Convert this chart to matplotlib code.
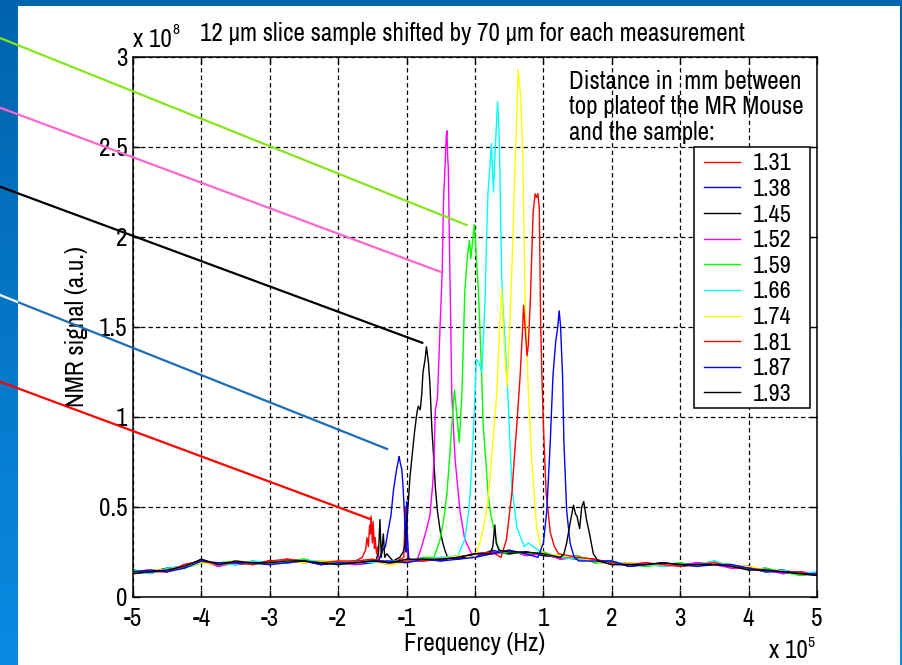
import numpy as np
import matplotlib
matplotlib.use("Agg")
import matplotlib.pyplot as plt
from matplotlib.lines import Line2D
from matplotlib.patches import Rectangle
from matplotlib.colors import LinearSegmentedColormap

plt.rcParams['font.family'] = ['Archivo Narrow', 'DejaVu Sans']
plt.rcParams['axes.unicode_minus'] = False

# ---------------- data (frequency in 1e5 Hz, signal in 1e8 a.u.) ----------------
labels = ['1.31', '1.38', '1.45', '1.52', '1.59', '1.66', '1.74', '1.81', '1.87', '1.93']
colors = ['#ff0000', '#0000ff', '#000000', '#ff00ff', '#00ff00',
          '#00ffff', '#ffff00', '#ff0000', '#0000ff', '#000000']

base_x = np.linspace(-5, 5, 41)   # sampling grid of the baseline readings
base_131 = [.13,.15,.14,.18,.19,.19,.18,.20,.18,.21,.19,.20,.18,.20,.21,.18,.21,.20,.22,.21,.24,.24,.26,.23,.25,.21,.23,.19,.20,.17,.19,.17,.19,.17,.20,.16,.17,.14,.15,.12,.13]
base_138 = [.15,.13,.16,.16,.21,.17,.20,.18,.20,.19,.21,.18,.20,.18,.19,.20,.19,.22,.20,.23,.22,.26,.24,.25,.23,.23,.21,.21,.18,.19,.17,.19,.17,.19,.18,.18,.15,.16,.13,.14,.12]
base_145 = [.13,.14,.16,.17,.19,.19,.18,.19,.20,.19,.20,.18,.19,.20,.19,.20,.21,.20,.22,.21,.24,.25,.24,.25,.23,.22,.21,.20,.20,.17,.18,.19,.17,.18,.18,.17,.17,.14,.15,.13,.12]
base_152 = [.14,.15,.14,.18,.20,.17,.19,.19,.18,.21,.20,.19,.19,.18,.20,.18,.20,.21,.20,.22,.23,.24,.26,.23,.24,.21,.22,.21,.18,.18,.19,.17,.18,.19,.18,.16,.16,.15,.13,.14,.13]
base_159 = [.15,.14,.15,.16,.19,.19,.20,.18,.19,.20,.21,.19,.18,.19,.21,.19,.19,.22,.21,.21,.24,.25,.25,.24,.25,.22,.23,.19,.19,.18,.17,.18,.19,.17,.19,.18,.15,.16,.14,.12,.13]
base_166 = [.14,.13,.16,.17,.20,.18,.18,.20,.19,.19,.20,.20,.19,.20,.19,.20,.20,.21,.22,.22,.22,.24,.25,.25,.24,.22,.21,.20,.20,.18,.18,.17,.18,.18,.20,.17,.16,.14,.15,.13,.14]
base_174 = [.13,.15,.15,.17,.19,.18,.20,.19,.19,.20,.19,.20,.20,.19,.20,.18,.19,.21,.21,.23,.23,.25,.24,.24,.23,.23,.22,.20,.18,.19,.18,.18,.18,.17,.19,.17,.17,.15,.14,.13,.13]
base_181 = [.14,.14,.14,.18,.20,.18,.19,.18,.20,.21,.20,.19,.20,.20,.21,.19,.20,.20,.21,.22,.24,.25,.25,.24,.25,.22,.22,.21,.19,.18,.19,.18,.17,.18,.19,.17,.16,.15,.14,.14,.12]
base_187 = [.14,.15,.14,.16,.20,.19,.19,.19,.18,.19,.20,.18,.19,.19,.20,.20,.19,.21,.20,.21,.22,.24,.26,.24,.23,.21,.22,.20,.20,.17,.18,.19,.18,.17,.18,.18,.16,.14,.14,.13,.13]
base_193 = [.13,.14,.15,.17,.21,.18,.20,.19,.19,.20,.20,.19,.18,.19,.20,.19,.21,.21,.21,.22,.24,.24,.25,.25,.24,.22,.21,.20,.18,.18,.18,.19,.18,.18,.18,.17,.15,.15,.14,.13,.12]

peak_131_x = [-1.65, -1.60, -1.58, -1.56, -1.54, -1.53, -1.52, -1.50, -1.49, -1.47, -1.46, -1.44, -1.42, -1.40,
              -1.04, -1.02, -1.00, -0.98]
peak_131_y = [0.22, 0.26, 0.33, 0.28, 0.40, 0.35, 0.45, 0.30, 0.42, 0.27, 0.33, 0.24, 0.28, 0.20,
              0.22, 0.50, 0.30, 0.21]
peak_138_x = [-1.40, -1.35, -1.31, -1.27, -1.23, -1.19, -1.15, -1.12, -1.11, -1.09, -1.07, -1.05, -1.03,
              -1.02, -1.01, -1.00, -0.99, -0.97, -0.94]
peak_138_y = [0.21, 0.26, 0.28, 0.37, 0.45, 0.60, 0.70, 0.76, 0.78, 0.74, 0.71, 0.60, 0.45,
              0.30, 0.25, 0.53, 0.35, 0.22, 0.20]
peak_145_x = [-1.45, -1.41, -1.39, -1.37, -1.34, -1.32, -1.29, -1.20, -1.10, -1.05, -1.02, -0.98, -0.95,
              -0.91, -0.88, -0.85, -0.83, -0.80, -0.78, -0.76, -0.73, -0.71, -0.68, -0.66, -0.63, -0.60,
              -0.58, -0.55, -0.51, -0.47, -0.44, -0.40]
peak_145_y = [0.20, 0.25, 0.43, 0.22, 0.35, 0.22, 0.24, 0.20, 0.22, 0.25, 0.30, 0.50, 0.67,
              0.82, 0.93, 1.02, 1.06, 1.04, 1.12, 1.25, 1.32, 1.39, 1.30, 1.19, 0.93, 0.75,
              0.61, 0.48, 0.37, 0.30, 0.26, 0.22]
peak_152_x = [-0.85, -0.78, -0.72, -0.66, -0.62, -0.60, -0.58, -0.55, -0.53, -0.51, -0.48, -0.46, -0.44,
              -0.42, -0.41, -0.40, -0.39, -0.37, -0.35, -0.34, -0.31, -0.29, -0.25, -0.22, -0.15, -0.10, -0.05]
peak_152_y = [0.20, 0.28, 0.36, 0.45, 0.62, 0.75, 1.04, 1.10, 1.30, 1.51, 1.80, 2.20, 2.38,
              2.56, 2.59, 2.45, 2.38, 1.88, 1.40, 1.14, 0.90, 0.76, 0.60, 0.48, 0.32, 0.28, 0.24]
peak_159_x = [-0.60, -0.51, -0.45, -0.41, -0.37, -0.34, -0.30, -0.27, -0.23, -0.19, -0.15, -0.12, -0.10,
              -0.08, -0.06, -0.03, -0.01, 0.02, 0.05, 0.07, 0.10, 0.12, 0.16, 0.19, 0.23, 0.27, 0.32, 0.38]
peak_159_y = [0.22, 0.32, 0.45, 0.58, 0.78, 0.95, 1.15, 1.03, 0.86, 1.14, 1.69, 1.85, 1.93,
              1.98, 1.88, 2.00, 2.07, 1.88, 1.70, 1.51, 1.20, 0.95, 0.75, 0.58, 0.46, 0.39, 0.30, 0.24]
peak_166_x = [-0.25, -0.15, -0.10, -0.07, -0.02, 0.02, 0.06, 0.10, 0.13, 0.15, 0.17, 0.19, 0.22, 0.24,
              0.27, 0.29, 0.31, 0.33, 0.35, 0.36, 0.39, 0.41, 0.44, 0.49, 0.54, 0.61, 0.66, 0.72, 0.78]
peak_166_y = [0.23, 0.32, 0.45, 0.58, 0.95, 1.32, 1.30, 1.25, 1.50, 1.69, 2.00, 2.25, 2.40, 2.52,
              2.25, 2.44, 2.60, 2.75, 2.60, 2.44, 1.79, 1.60, 1.42, 1.04, 0.61, 0.39, 0.34, 0.28, 0.30]
peak_174_x = [0.00, 0.07, 0.12, 0.17, 0.21, 0.24, 0.28, 0.32, 0.36, 0.39, 0.42, 0.44, 0.47, 0.51, 0.56,
              0.58, 0.60, 0.62, 0.63, 0.65, 0.67, 0.70, 0.73, 0.78, 0.83, 0.87, 0.90, 0.95, 1.00]
peak_174_y = [0.22, 0.30, 0.38, 0.48, 0.62, 0.76, 0.95, 1.14, 1.50, 1.71, 1.45, 1.32, 1.17, 1.51, 2.06,
              2.35, 2.53, 2.80, 2.93, 2.85, 2.77, 2.44, 1.69, 1.14, 0.76, 0.55, 0.39, 0.30, 0.24]
peak_181_x = [0.38, 0.46, 0.50, 0.54, 0.58, 0.61, 0.66, 0.69, 0.71, 0.73, 0.76, 0.78, 0.81, 0.85, 0.88,
              0.90, 0.92, 0.94, 0.96, 0.98, 1.00, 1.04, 1.10, 1.16, 1.22]
peak_181_y = [0.22, 0.32, 0.45, 0.58, 0.80, 0.95, 1.23, 1.45, 1.62, 1.51, 1.34, 1.40, 1.66, 2.14, 2.24,
              2.22, 2.24, 2.16, 1.51, 1.20, 0.95, 0.58, 0.36, 0.28, 0.24]
peak_187_x = [0.92, 1.00, 1.05, 1.10, 1.14, 1.18, 1.21, 1.23, 1.25, 1.28, 1.30, 1.34, 1.39, 1.45, 1.52]
peak_187_y = [0.22, 0.30, 0.48, 0.86, 1.23, 1.42, 1.50, 1.59, 1.51, 1.23, 0.86, 0.48, 0.30, 0.22, 0.20]
peak_193_x = [0.22, 0.26, 0.29, 0.31, 0.35, 1.25, 1.30, 1.34, 1.39, 1.44, 1.47, 1.49, 1.53, 1.56, 1.59,
              1.61, 1.63, 1.68, 1.73, 1.80]
peak_193_y = [0.24, 0.28, 0.40, 0.30, 0.26, 0.22, 0.24, 0.30, 0.41, 0.51, 0.46, 0.45, 0.38, 0.50, 0.53,
              0.48, 0.43, 0.34, 0.24, 0.20]

baselines = [base_131, base_138, base_145, base_152, base_159,
             base_166, base_174, base_181, base_187, base_193]
peaks = [(peak_131_x, peak_131_y), (peak_138_x, peak_138_y), (peak_145_x, peak_145_y),
         (peak_152_x, peak_152_y), (peak_159_x, peak_159_y), (peak_166_x, peak_166_y),
         (peak_174_x, peak_174_y), (peak_181_x, peak_181_y), (peak_187_x, peak_187_y),
         (peak_193_x, peak_193_y)]

# annotation lines: end points on peaks (data units), start on the left page edge
arrow_colors = ['#84e619', '#ff66cc', '#000000', '#1c6db3', '#ff0000']
arrow_end_x = [-0.107, -0.487, -0.756, -1.27, -1.51]
arrow_end_y = [2.064, 1.804, 1.41, 0.82, 0.43]
arrow_start_px = [38, 107.7, 186.7, 295, 381.7]

W, H = 903, 665
def fx(px): return px / W
def fy(py): return 1 - py / H
def axx(px): return (px - 133) / 684
def axy(py): return (597 - py) / 540

FS = 18

fig = plt.figure(figsize=(W / 100, H / 100), dpi=100)
fig.patch.set_facecolor('white')

# slide background: blue frame on top, left and right
bg = fig.add_axes([0, 0, 1, 1], zorder=-5)
grad = np.linspace(0, 1, 256)[:, None]
cm = LinearSegmentedColormap.from_list('bl', ['#0064ae', '#0a8ae2'])
bg.imshow(grad, cmap=cm, extent=[0, 17.7, H, 0], aspect='auto')
bg.imshow(grad, cmap=cm, extent=[900, W, H, 0], aspect='auto')
bg.add_patch(Rectangle((0, 0), W, 6, color='#0064ae', lw=0))
bg.set_xlim(0, W); bg.set_ylim(H, 0); bg.axis('off')

ax = fig.add_axes([fx(133), fy(597), fx(817) - fx(133), fy(57) - fy(597)])
for i in range(len(labels)):
    bx = np.asarray(base_x)
    by = np.asarray(baselines[i])
    px_, py_ = np.asarray(peaks[i][0]), np.asarray(peaks[i][1])
    keep = np.min(np.abs(bx[:, None] - px_[None, :]), axis=1) > 0.1
    xs = np.concatenate([bx[keep], px_])
    ys = np.concatenate([by[keep], py_])
    o = np.argsort(xs, kind='stable')
    ax.plot(xs[o], ys[o], color=colors[i], lw=1.0, label=labels[i])

ax.set_xlim(-5, 5)
ax.set_ylim(0, 3)
ax.set_xticks(np.arange(-5, 6, 1))
ax.set_yticks(np.arange(0, 3.01, 0.5))
ax.set_xticklabels([str(v) for v in range(-5, 6)])
ax.set_yticklabels(['0', '0.5', '1', '1.5', '2', '2.5', '3'])
ax.tick_params(direction='in', length=5, width=1, top=True, right=True,
               labelsize=FS, colors='black')
ax.tick_params(axis='y', pad=4)
ax.tick_params(axis='x', pad=7)
ax.grid(True, color='black', linestyle=(0, (3.5, 2.5)), lw=0.9)
for s in ax.spines.values():
    s.set_linewidth(1.1)

ax.set_xlabel('Frequency (Hz)', fontsize=FS)
ax.set_ylabel('NMR signal (a.u.)', fontsize=FS)
ax.xaxis.set_label_coords(0.5, axy(632))
ax.yaxis.set_label_coords(axx(88), 0.5)

# legend box (frame drawn as its own rectangle to match the original size)
ax.add_patch(Rectangle((axx(694.3), axy(407.7)), axx(810) - axx(694.3), axy(146.7) - axy(407.7),
                       transform=ax.transAxes, facecolor='white', edgecolor='black',
                       lw=1.1, zorder=4.5))
leg = ax.legend(loc='upper left', bbox_to_anchor=(axx(697), axy(146)),
                borderaxespad=0, fontsize=17.5, frameon=False,
                handlelength=1.45, handletextpad=0.55, labelspacing=0.19,
                borderpad=0.3)

ax.text(axx(569), axy(70),
        'Distance in  mm between\ntop plateof the MR Mouse\nand the sample:',
        transform=ax.transAxes, fontsize=FS, ha='left', va='top', linespacing=1.13)

fig.text(fx(472.5), fy(41), '12 \u00b5m slice sample shifted by 70 \u00b5m for each measurement',
         fontsize=FS, ha='center', va='baseline')
fig.text(fx(133), fy(47), 'x 10', fontsize=FS, ha='left', va='baseline')
fig.text(fx(172), fy(34), '8', fontsize=11, ha='left', va='baseline')
fig.text(fx(769), fy(658), 'x 10', fontsize=FS, ha='left', va='baseline')
fig.text(fx(807), fy(647), '5', fontsize=11, ha='left', va='baseline')

# annotation lines from the left edge to the peaks
for c, ex, ey, sy in zip(arrow_colors, arrow_end_x, arrow_end_y, arrow_start_px):
    ep = ax.transData.transform((ex, ey))
    sp = (0, fy(sy) * H)
    ln = Line2D([sp[0], ep[0]], [sp[1], ep[1]], transform=None, color=c, lw=1.6,
                solid_capstyle='butt', zorder=10)
    fig.add_artist(ln)
    if c == '#1c6db3':
        strip = Rectangle((0, 0), 17.7, H, transform=None)
        wl = Line2D([sp[0], ep[0]], [sp[1], ep[1]], transform=None, color='white', lw=1.6, zorder=11)
        wl.set_clip_path(strip)
        fig.add_artist(wl)

fig.savefig('out.png', dpi=100)
